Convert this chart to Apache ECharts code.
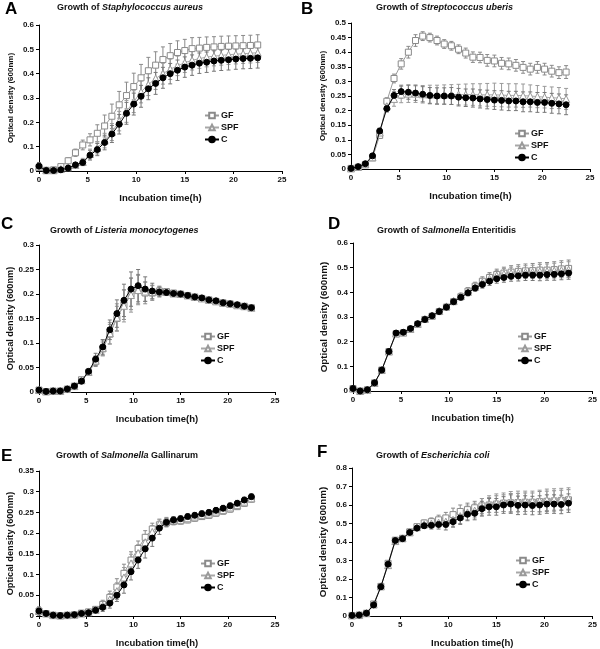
<!DOCTYPE html>
<html>
<head>
<meta charset="utf-8">
<script src="https://cdn.jsdelivr.net/npm/echarts@6/dist/echarts.min.js"></script>
<style>
html, body { margin: 0; padding: 0; background: #fff; }
#chart { width: 600px; height: 649px; }
</style>
</head>
<body>
<div id="chart"></div>
<script>
// incubation time points (h)
var hours = [0,0.75,1.5,2.25,3,3.75,4.5,5.25,6,6.75,7.5,8.25,9,9.75,10.5,11.25,12,12.75,13.5,14.25,15,15.75,16.5,17.25,18,18.75,19.5,20.25,21,21.75,22.5];
var groupNames = ['GF', 'SPF', 'C'];

// A - Staphylococcus aureus
var aGF  = [0.015,0.003,0.005,0.018,0.042,0.075,0.107,0.128,0.155,0.185,0.225,0.272,0.31,0.347,0.383,0.412,0.435,0.458,0.474,0.487,0.495,0.503,0.505,0.508,0.51,0.512,0.513,0.514,0.515,0.516,0.518];
var aSPF = [0.018,0.003,0.003,0.008,0.015,0.025,0.037,0.07,0.095,0.125,0.16,0.205,0.245,0.285,0.325,0.355,0.38,0.4,0.418,0.432,0.445,0.455,0.462,0.468,0.472,0.475,0.478,0.48,0.482,0.484,0.486];
var aC   = [0.02,0.002,0.002,0.005,0.012,0.025,0.035,0.065,0.088,0.117,0.152,0.192,0.237,0.275,0.307,0.338,0.36,0.383,0.4,0.414,0.427,0.435,0.443,0.447,0.452,0.455,0.457,0.46,0.462,0.463,0.465];
var aGFsd  = [0.01,0.004,0.004,0.008,0.012,0.015,0.02,0.025,0.035,0.045,0.05,0.055,0.055,0.055,0.055,0.055,0.055,0.052,0.05,0.048,0.046,0.045,0.044,0.043,0.042,0.042,0.042,0.042,0.042,0.042,0.042];
var aSPFsd = [0.008,0.003,0.003,0.005,0.008,0.01,0.015,0.02,0.025,0.03,0.035,0.04,0.045,0.045,0.045,0.045,0.045,0.043,0.042,0.04,0.04,0.04,0.04,0.04,0.04,0.04,0.04,0.04,0.04,0.04,0.04];
var aCsd   = [0.015,0.003,0.003,0.005,0.008,0.01,0.012,0.02,0.025,0.03,0.035,0.04,0.045,0.045,0.045,0.045,0.045,0.043,0.042,0.042,0.042,0.042,0.042,0.042,0.042,0.042,0.042,0.042,0.042,0.042,0.042];

// B - Streptococcus uberis
var bGF  = [0.002,0.006,0.015,0.038,0.115,0.232,0.31,0.36,0.4,0.44,0.455,0.45,0.44,0.428,0.422,0.41,0.397,0.383,0.382,0.372,0.37,0.362,0.36,0.355,0.348,0.342,0.348,0.342,0.335,0.33,0.332];
var bSPF = [0.002,0.007,0.016,0.04,0.125,0.215,0.24,0.255,0.258,0.258,0.256,0.255,0.255,0.255,0.255,0.255,0.255,0.255,0.254,0.254,0.254,0.253,0.252,0.252,0.251,0.25,0.248,0.246,0.244,0.243,0.24];
var bC   = [0.002,0.008,0.018,0.045,0.13,0.207,0.252,0.265,0.263,0.26,0.256,0.252,0.25,0.25,0.25,0.246,0.244,0.243,0.24,0.238,0.236,0.235,0.233,0.233,0.23,0.23,0.228,0.228,0.225,0.223,0.22];
var bGFsd  = [0.002,0.003,0.004,0.006,0.01,0.012,0.015,0.018,0.02,0.02,0.015,0.015,0.015,0.015,0.015,0.015,0.017,0.018,0.018,0.02,0.02,0.02,0.02,0.02,0.02,0.02,0.02,0.02,0.02,0.02,0.022];
var bSPFsd = [0.002,0.003,0.004,0.006,0.01,0.012,0.025,0.028,0.03,0.03,0.03,0.032,0.032,0.033,0.034,0.035,0.036,0.037,0.038,0.039,0.04,0.04,0.04,0.04,0.04,0.038,0.038,0.037,0.037,0.036,0.036];
var bCsd   = [0.002,0.003,0.004,0.006,0.01,0.012,0.02,0.022,0.024,0.025,0.026,0.027,0.028,0.028,0.029,0.03,0.03,0.031,0.031,0.032,0.032,0.033,0.033,0.033,0.034,0.034,0.034,0.034,0.034,0.034,0.034];

// C - Listeria monocytogenes
var cGF  = [0.004,0.001,0.002,0.002,0.006,0.012,0.025,0.04,0.062,0.088,0.118,0.15,0.178,0.2,0.21,0.202,0.202,0.206,0.205,0.202,0.2,0.197,0.194,0.191,0.188,0.185,0.182,0.18,0.177,0.175,0.172];
var cSPF = [0.004,0.001,0.002,0.002,0.006,0.012,0.024,0.041,0.064,0.09,0.12,0.152,0.176,0.198,0.208,0.205,0.204,0.205,0.204,0.201,0.2,0.197,0.194,0.191,0.188,0.185,0.182,0.18,0.177,0.175,0.172];
var cC   = [0.004,0.001,0.002,0.002,0.006,0.012,0.022,0.042,0.067,0.092,0.127,0.16,0.187,0.21,0.217,0.21,0.206,0.204,0.203,0.201,0.2,0.197,0.194,0.192,0.188,0.186,0.182,0.18,0.178,0.175,0.172];
var cGFsd  = [0.002,0.002,0.002,0.002,0.002,0.003,0.004,0.006,0.01,0.014,0.02,0.025,0.03,0.032,0.03,0.022,0.015,0.01,0.006,0.005,0.004,0.004,0.004,0.004,0.004,0.004,0.004,0.004,0.004,0.004,0.004];
var cSPFsd = [0.002,0.002,0.002,0.002,0.002,0.003,0.004,0.006,0.01,0.016,0.022,0.028,0.033,0.035,0.03,0.02,0.014,0.009,0.006,0.005,0.004,0.004,0.004,0.004,0.004,0.004,0.004,0.004,0.004,0.004,0.004];
var cCsd   = [0.002,0.002,0.002,0.002,0.002,0.003,0.004,0.006,0.012,0.015,0.02,0.028,0.033,0.035,0.033,0.025,0.016,0.01,0.006,0.005,0.004,0.004,0.004,0.004,0.004,0.004,0.004,0.004,0.004,0.004,0.004];

// D - Salmonella Enteritidis
var dGF  = [0.01,0.0,0.005,0.033,0.085,0.16,0.232,0.236,0.25,0.27,0.29,0.303,0.322,0.34,0.362,0.382,0.405,0.425,0.445,0.46,0.472,0.478,0.482,0.485,0.487,0.488,0.49,0.49,0.492,0.495,0.497];
var dSPF = [0.01,0.0,0.005,0.033,0.085,0.16,0.233,0.237,0.252,0.272,0.292,0.306,0.325,0.343,0.365,0.385,0.402,0.422,0.44,0.455,0.468,0.475,0.478,0.48,0.482,0.483,0.485,0.486,0.488,0.49,0.492];
var dC   = [0.01,0.0,0.005,0.033,0.085,0.16,0.235,0.238,0.253,0.273,0.29,0.305,0.322,0.34,0.362,0.38,0.398,0.418,0.432,0.445,0.455,0.46,0.465,0.467,0.47,0.47,0.47,0.472,0.473,0.475,0.478];
var dGFsd  = [0.004,0.003,0.003,0.004,0.005,0.006,0.006,0.006,0.006,0.006,0.006,0.007,0.008,0.009,0.01,0.012,0.014,0.016,0.018,0.02,0.022,0.024,0.026,0.027,0.028,0.029,0.03,0.031,0.032,0.033,0.034];
var dSPFsd = [0.004,0.003,0.003,0.004,0.005,0.006,0.006,0.006,0.006,0.006,0.006,0.007,0.008,0.009,0.01,0.012,0.014,0.015,0.017,0.019,0.021,0.022,0.024,0.025,0.026,0.027,0.028,0.029,0.03,0.031,0.032];
var dCsd   = [0.004,0.003,0.003,0.004,0.005,0.006,0.006,0.006,0.006,0.006,0.006,0.007,0.008,0.009,0.01,0.011,0.012,0.014,0.015,0.017,0.018,0.019,0.02,0.021,0.022,0.022,0.023,0.023,0.024,0.024,0.025];

// E - Salmonella Gallinarum
var eGF  = [0.012,0.006,0.002,0.001,0.002,0.003,0.007,0.01,0.016,0.028,0.045,0.07,0.103,0.135,0.163,0.19,0.21,0.22,0.225,0.228,0.229,0.232,0.236,0.24,0.243,0.248,0.253,0.258,0.264,0.272,0.282];
var eSPF = [0.012,0.006,0.002,0.001,0.002,0.003,0.006,0.009,0.015,0.025,0.04,0.06,0.093,0.127,0.152,0.178,0.203,0.222,0.228,0.231,0.232,0.236,0.24,0.244,0.247,0.252,0.256,0.262,0.268,0.276,0.284];
var eC   = [0.012,0.006,0.002,0.001,0.002,0.003,0.006,0.008,0.014,0.021,0.031,0.05,0.075,0.107,0.135,0.162,0.188,0.212,0.226,0.232,0.235,0.24,0.243,0.247,0.25,0.255,0.26,0.266,0.272,0.28,0.288];
var eGFsd  = [0.008,0.004,0.003,0.003,0.003,0.003,0.004,0.005,0.007,0.01,0.015,0.02,0.022,0.02,0.018,0.016,0.014,0.012,0.01,0.008,0.007,0.007,0.007,0.007,0.007,0.007,0.007,0.007,0.007,0.007,0.007];
var eSPFsd = [0.008,0.004,0.003,0.003,0.003,0.003,0.004,0.005,0.007,0.01,0.014,0.02,0.024,0.022,0.02,0.018,0.015,0.012,0.01,0.008,0.007,0.007,0.007,0.007,0.007,0.007,0.007,0.007,0.007,0.007,0.007];
var eCsd   = [0.01,0.004,0.003,0.003,0.003,0.003,0.004,0.005,0.007,0.01,0.012,0.015,0.02,0.02,0.02,0.022,0.02,0.015,0.01,0.008,0.007,0.007,0.007,0.007,0.007,0.007,0.007,0.007,0.007,0.007,0.007];

// F - Escherichia coli
var fGF  = [0.003,0.005,0.015,0.065,0.16,0.285,0.41,0.42,0.455,0.483,0.503,0.51,0.52,0.53,0.548,0.565,0.575,0.585,0.595,0.6,0.605,0.61,0.612,0.613,0.615,0.615,0.618,0.62,0.622,0.625,0.628];
var fSPF = [0.003,0.005,0.015,0.062,0.16,0.275,0.405,0.42,0.452,0.48,0.495,0.5,0.505,0.51,0.52,0.54,0.56,0.57,0.59,0.605,0.61,0.615,0.618,0.62,0.62,0.62,0.622,0.628,0.63,0.632,0.635];
var fC   = [0.003,0.005,0.015,0.06,0.158,0.28,0.408,0.418,0.452,0.475,0.488,0.49,0.495,0.495,0.51,0.53,0.55,0.555,0.58,0.59,0.59,0.6,0.605,0.598,0.6,0.597,0.6,0.605,0.605,0.603,0.61];
var fGFsd  = [0.005,0.005,0.008,0.01,0.01,0.015,0.012,0.01,0.012,0.012,0.015,0.02,0.025,0.03,0.035,0.035,0.035,0.035,0.04,0.04,0.045,0.045,0.05,0.05,0.05,0.05,0.055,0.055,0.055,0.055,0.055];
var fSPFsd = [0.005,0.005,0.008,0.01,0.01,0.015,0.012,0.01,0.012,0.012,0.015,0.02,0.025,0.03,0.035,0.04,0.04,0.04,0.045,0.045,0.05,0.05,0.055,0.055,0.055,0.055,0.058,0.058,0.058,0.058,0.058];
var fCsd   = [0.005,0.005,0.008,0.01,0.01,0.015,0.012,0.01,0.012,0.012,0.015,0.02,0.025,0.03,0.03,0.035,0.035,0.035,0.04,0.045,0.045,0.045,0.05,0.05,0.05,0.05,0.05,0.05,0.05,0.05,0.05];

// layout of each panel
var panels = [
	{ letter: 'A', title: '{n|Growth of }{i|Staphylococcus aureus}', yMax: 0.6, yStep: 0.1,
	  grid: [39, 25, 243, 146], letterAt: [5, 1], titleAt: [57, 3], legendAt: [204, 111], nameSize: 8,
	  means: [aGF, aSPF, aC], sds: [aGFsd, aSPFsd, aCsd] },
	{ letter: 'B', title: '{n|Growth of }{i|Streptococcus uberis}', yMax: 0.5, yStep: 0.05,
	  grid: [351, 23, 239, 146], letterAt: [301, 1], titleAt: [376, 3], legendAt: [514, 129], nameSize: 8,
	  means: [bGF, bSPF, bC], sds: [bGFsd, bSPFsd, bCsd] },
	{ letter: 'C', title: '{n|Growth of }{i|Listeria monocytogenes}', yMax: 0.3, yStep: 0.05,
	  grid: [39, 245, 236, 147], letterAt: [1, 216], titleAt: [50, 226], legendAt: [200, 332], nameSize: 9.2,
	  means: [cGF, cSPF, cC], sds: [cGFsd, cSPFsd, cCsd] },
	{ letter: 'D', title: '{n|Growth of }{i|Salmonella}{n| Enteritidis}', yMax: 0.6, yStep: 0.1,
	  grid: [353, 243, 240, 148], letterAt: [328, 216], titleAt: [377, 226], legendAt: [517, 332], nameSize: 9.8,
	  means: [dGF, dSPF, dC], sds: [dGFsd, dSPFsd, dCsd] },
	{ letter: 'E', title: '{n|Growth of }{i|Salmonella}{n| Gallinarum}', yMax: 0.35, yStep: 0.05,
	  grid: [39, 471, 236, 146], letterAt: [1, 448], titleAt: [56, 451], legendAt: [200, 559], nameSize: 9.2,
	  means: [eGF, eSPF, eC], sds: [eGFsd, eSPFsd, eCsd] },
	{ letter: 'F', title: '{n|Growth of }{i|Escherichia coli}', yMax: 0.8, yStep: 0.1,
	  grid: [352, 468, 241, 148], letterAt: [317, 444], titleAt: [376, 451], legendAt: [515, 556], nameSize: 9.8,
	  means: [fGF, fSPF, fC], sds: [fGFsd, fSPFsd, fCsd] }
];

var FONT = 'Liberation Sans, Arial, sans-serif';
var looks = [
	{ symbol: 'rect', size: 6, fill: '#fff', edge: '#8a8a8a', line: '#9a9a9a', bar: '#8a8a8a' },
	{ symbol: 'triangle', size: 7, fill: '#fff', edge: '#9a9a9a', line: '#a8a8a8', bar: '#9a9a9a' },
	{ symbol: 'circle', size: 6, fill: '#000', edge: '#000', line: '#000', bar: '#777' }
];

function errorBars(color) {
	return function (params, api) {
		var x = api.value(0), y = api.value(1), e = api.value(2);
		var hi = api.coord([x, y + e]), lo = api.coord([x, y - e]);
		var st = { stroke: color, lineWidth: 1 };
		return {
			type: 'group',
			children: [
				{ type: 'line', shape: { x1: hi[0], y1: hi[1], x2: lo[0], y2: lo[1] }, style: st },
				{ type: 'line', shape: { x1: hi[0] - 2, y1: hi[1], x2: hi[0] + 2, y2: hi[1] }, style: st },
				{ type: 'line', shape: { x1: lo[0] - 2, y1: lo[1], x2: lo[0] + 2, y2: lo[1] }, style: st }
			]
		};
	};
}

var grids = [], xAxes = [], yAxes = [], titles = [], legends = [], lines = [], bars = [];

panels.forEach(function (p, k) {
	grids.push({ left: p.grid[0], top: p.grid[1], width: p.grid[2], height: p.grid[3] });

	xAxes.push({
		gridIndex: k, type: 'value', min: 0, max: 25, interval: 5,
		name: 'Incubation time(h)', nameLocation: 'middle', nameGap: 22,
		nameTextStyle: { fontFamily: FONT, fontWeight: 'bold', fontSize: 9.5, color: '#111' },
		axisLine: { lineStyle: { color: '#000', width: 1 } },
		axisTick: { length: 3, lineStyle: { color: '#000' } },
		axisLabel: { fontFamily: FONT, fontWeight: 'bold', fontSize: 8, color: '#111', margin: 5 },
		splitLine: { show: false }
	});

	yAxes.push({
		gridIndex: k, type: 'value', min: 0, max: p.yMax, interval: p.yStep,
		name: 'Optical density (600nm)', nameLocation: 'middle', nameGap: 24, nameRotate: 90,
		nameTextStyle: { fontFamily: FONT, fontWeight: 'bold', fontSize: p.nameSize, color: '#111' },
		axisLine: { show: true, lineStyle: { color: '#000', width: 1 } },
		axisTick: { show: true, length: 3, lineStyle: { color: '#000' } },
		axisLabel: { fontFamily: FONT, fontWeight: 'bold', fontSize: 8, color: '#111', margin: 5 },
		splitLine: { show: false }
	});

	titles.push({
		text: p.letter, left: p.letterAt[0], top: p.letterAt[1], padding: 0,
		textStyle: { fontFamily: FONT, fontWeight: 'bold', fontSize: 17, color: '#000' }
	});
	titles.push({
		text: p.title, left: p.titleAt[0], top: p.titleAt[1], padding: 0,
		textStyle: {
			rich: {
				n: { fontFamily: FONT, fontWeight: 'bold', fontSize: 9, color: '#111' },
				i: { fontFamily: FONT, fontWeight: 'bold', fontStyle: 'italic', fontSize: 9, color: '#111' }
			}
		}
	});

	legends.push({
		data: groupNames, orient: 'vertical', left: p.legendAt[0], top: p.legendAt[1],
		itemWidth: 14, itemHeight: 7, itemGap: 3, padding: 0,
		textStyle: { fontFamily: FONT, fontWeight: 'bold', fontSize: 9, color: '#111', padding: [0, 0, 0, -3] }
	});

	groupNames.forEach(function (g, j) {
		var lk = looks[j];
		var pts = hours.map(function (h, i) { return [h, p.means[j][i]]; });
		var errs = hours.map(function (h, i) { return [h, p.means[j][i], p.sds[j][i]]; });
		lines.push({
			name: g, type: 'line', xAxisIndex: k, yAxisIndex: k, data: pts,
			symbol: lk.symbol, symbolSize: lk.size, showAllSymbol: true,
			lineStyle: { color: lk.line, width: 1 },
			itemStyle: { color: lk.fill, borderColor: lk.edge, borderWidth: 1 },
			z: 3 + j, animation: false
		});
		bars.push({
			name: g, type: 'custom', xAxisIndex: k, yAxisIndex: k, data: errs,
			renderItem: errorBars(lk.bar), encode: { x: 0, y: 1 }, z: 2, animation: false
		});
	});
});

var myChart = echarts.init(document.getElementById('chart'));
var option = {
	backgroundColor: '#fff',
	animation: false,
	title: titles,
	legend: legends,
	grid: grids,
	xAxis: xAxes,
	yAxis: yAxes,
	series: lines.concat(bars)
};
myChart.setOption(option);
</script>
</body>
</html>
